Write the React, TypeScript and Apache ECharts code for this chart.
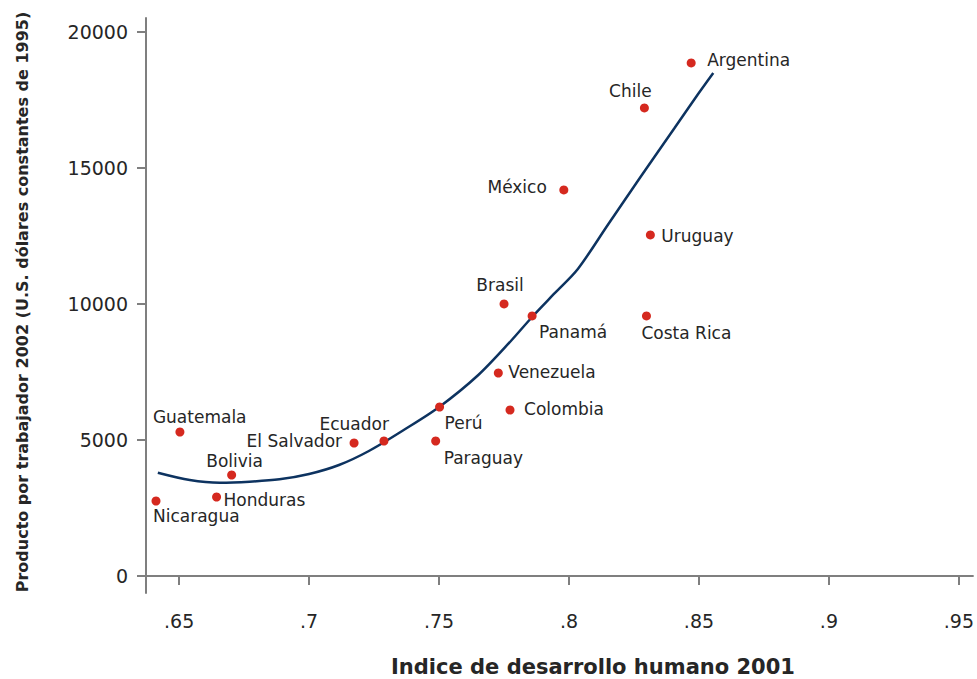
import React, { useEffect, useRef } from "react";
import * as echarts from "echarts";

const countries = ["Argentina","Chile","México","Uruguay","Brasil","Panamá","Costa Rica","Venezuela","Perú","Colombia","Paraguay","Ecuador","El Salvador","Guatemala","Bolivia","Honduras","Nicaragua"];
const idh = [0.847,0.829,0.798,0.8313,0.775,0.7858,0.8298,0.7728,0.7502,0.7773,0.7487,0.7288,0.7173,0.6503,0.6702,0.6644,0.6411];
const producto = [18860,17206,14191,12537,10000,9559,9559,7463,6213,6103,4963,4963,4890,5294,3713,2904,2757];

const fitX = [0.6418,0.6541,0.6656,0.6771,0.6886,0.7000,0.7115,0.7230,0.7364,0.7502,0.7651,0.7778,0.7858,0.7946,0.8034,0.8149,0.8275,0.8406,0.8494,0.8555];
const fitY = [3798,3529,3430,3467,3555,3750,4081,4596,5368,6224,7390,8658,9522,10404,11287,12905,14669,16471,17684,18493];

const xTicks = [0.65,0.7,0.75,0.8,0.85,0.9,0.95];
const yTicks = [0,5000,10000,15000,20000];

// label placement: [align, dx, dy] relative to point centre
const labelPlace: Record<string, [string, number, number]> = {
  "Argentina": ["left", 16, -3],
  "Chile": ["center", -14, -17],
  "México": ["right", -17, -3],
  "Uruguay": ["left", 11, 1],
  "Brasil": ["center", -4, -19],
  "Panamá": ["left", 7, 16],
  "Costa Rica": ["left", -5, 17],
  "Venezuela": ["left", 10, -1],
  "Perú": ["left", 5, 16],
  "Colombia": ["left", 14, -1],
  "Paraguay": ["left", 8, 17],
  "Ecuador": ["right", 5, -17],
  "El Salvador": ["right", -12, -2],
  "Guatemala": ["left", -27, -15],
  "Bolivia": ["center", 3, -14],
  "Honduras": ["left", 7, 3],
  "Nicaragua": ["left", -3, 15],
};

const FONT = "'DejaVu Sans', Verdana, sans-serif";
const AXIS = "#7f7f7f";
const TXT = "#262626";

export default function App() {
  const ref = useRef<HTMLDivElement>(null);
  useEffect(() => {
    const chart = echarts.init(ref.current!, undefined, { renderer: "svg" });
    const scatterData = countries.map((c, i) => {
      const [align, dx, dy] = labelPlace[c];
      return {
        name: c,
        value: [idh[i], producto[i]],
        label: {
          show: true,
          position: "inside",
          align,
          verticalAlign: "middle",
          offset: [dx, dy],
          formatter: c,
          color: TXT,
          opacity: 1,
          fontSize: 17,
          fontFamily: FONT,
        },
      };
    });
    chart.setOption({
      animation: false,
      grid: { left: 146, right: 0, top: 18, bottom: 86, containLabel: false },
      xAxis: {
        type: "value",
        min: 0.63725,
        max: 0.9554,
        axisLine: { show: true, lineStyle: { color: AXIS, width: 2 } },
        axisTick: { show: true, customValues: xTicks, length: 9, lineStyle: { color: AXIS, width: 2 } },
        axisLabel: {
          customValues: xTicks,
          margin: 18,
          color: TXT,
          fontSize: 19,
          fontFamily: FONT,
          formatter: (v: number) => String(v).replace(/^0/, ""),
        },
        splitLine: { show: false },
      },
      yAxis: {
        type: "value",
        min: -625,
        max: 20513,
        axisLine: { show: true, lineStyle: { color: AXIS, width: 2 } },
        axisTick: { show: true, customValues: yTicks, length: 9, lineStyle: { color: AXIS, width: 2 } },
        axisLabel: {
          customValues: yTicks,
          margin: 18,
          color: TXT,
          fontSize: 19,
          fontFamily: FONT,
          formatter: (v: number) => String(v),
        },
        splitLine: { show: false },
      },
      graphic: [
        {
          type: "text",
          x: 22,
          y: 302,
          rotation: Math.PI / 2,
          style: {
            text: "Producto por trabajador 2002 (U.S. dólares constantes de 1995)",
            font: `bold 16px ${FONT}`,
            fill: TXT,
            align: "center",
            verticalAlign: "middle",
          },
        },
        {
          type: "text",
          x: 593,
          y: 667,
          style: {
            text: "Indice de desarrollo humano 2001",
            font: `bold 21px ${FONT}`,
            fill: TXT,
            align: "center",
            verticalAlign: "middle",
          },
        },
      ],
      series: [
        {
          type: "line",
          data: fitX.map((x, i) => [x, fitY[i]]),
          showSymbol: false,
          smooth: 0.3,
          lineStyle: { color: "#0d3360", width: 2.5 },
          z: 2,
        },
        {
          type: "scatter",
          data: scatterData,
          symbolSize: 9,
          itemStyle: { color: "#d5291f", opacity: 1 },
          z: 3,
        },
      ],
    });
    return () => chart.dispose();
  }, []);
  return <div ref={ref} style={{ position: "fixed", left: 0, top: 0, width: 977, height: 679, background: "#fff" }} />;
}
